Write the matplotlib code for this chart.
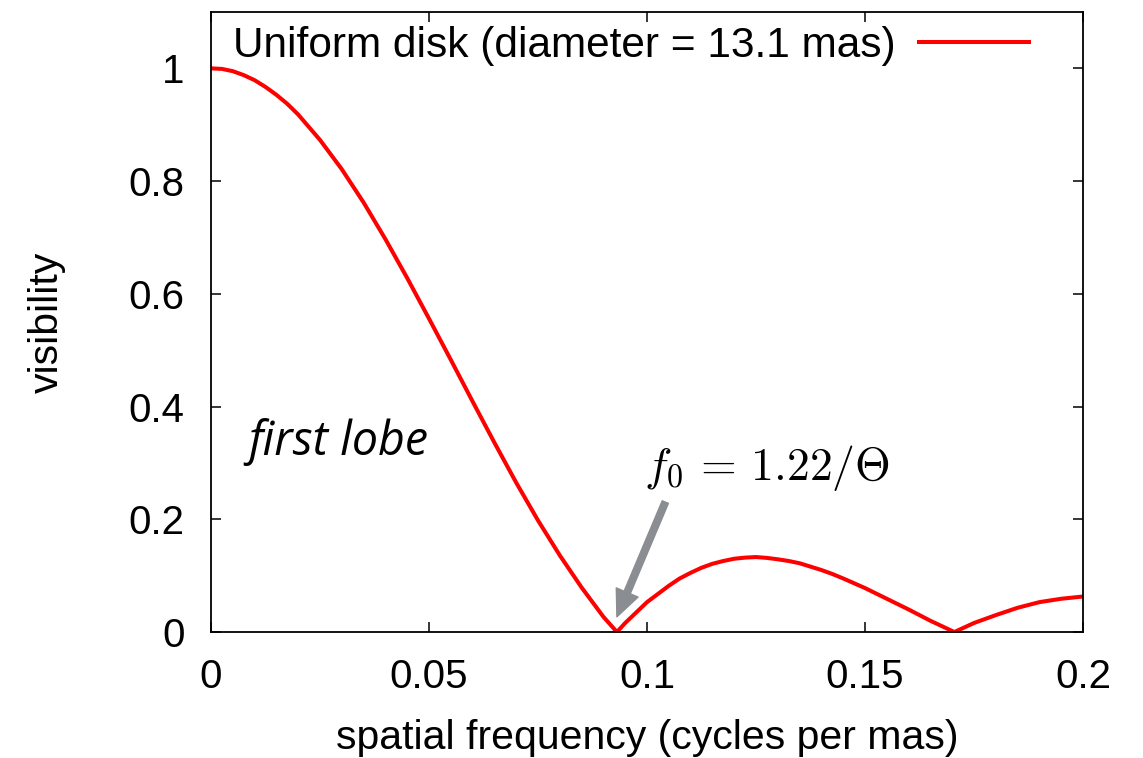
import matplotlib
matplotlib.use("Agg")
import matplotlib.pyplot as plt

plt.rcParams['font.family'] = ['Liberation Sans', 'DejaVu Sans']
plt.rcParams['mathtext.fontset'] = 'cm'

# visibility of a uniform disk
freq = [0, 0.0025, 0.005, 0.0075, 0.01, 0.0125, 0.015, 0.0175, 0.02,
        0.025, 0.03, 0.035, 0.04, 0.045, 0.05, 0.055, 0.06, 0.065, 0.07,
        0.075, 0.08, 0.085, 0.09, 0.0931, 0.095, 0.10, 0.105, 0.1075, 0.11,
        0.1125, 0.115, 0.1175, 0.12, 0.1225, 0.125, 0.1275, 0.13, 0.1325,
        0.135, 0.1375, 0.14, 0.1425, 0.145, 0.15, 0.155, 0.16, 0.165, 0.1705,
        0.175, 0.18, 0.185, 0.19, 0.195, 0.2]
vis = [1.0, 0.999, 0.995, 0.988, 0.979, 0.967, 0.953, 0.937, 0.918,
       0.873, 0.821, 0.762, 0.697, 0.628, 0.556, 0.483, 0.409, 0.336, 0.265,
       0.198, 0.136, 0.079, 0.027, 0.0, 0.016, 0.053, 0.082, 0.095, 0.105,
       0.114, 0.121, 0.126, 0.130, 0.132, 0.133, 0.1315, 0.129, 0.126,
       0.122, 0.116, 0.110, 0.103, 0.095, 0.078, 0.059, 0.040, 0.020, 0.0,
       0.016, 0.030, 0.043, 0.053, 0.059, 0.063]

xticks = [0, 0.05, 0.1, 0.15, 0.2]
xtick_labels = ["0", "0.05", "0.1", "0.15", "0.2"]
yticks = [0, 0.2, 0.4, 0.6, 0.8, 1.0]
ytick_labels = ["0", "0.2", "0.4", "0.6", "0.8", "1"]

f0 = 0.0931

fig = plt.figure(figsize=(11.43, 7.58), dpi=100)
ax = fig.add_axes([0.1846, 0.1662, 0.7629, 0.818])

ax.plot(freq, vis, color="#ff0000", lw=2.9, solid_joinstyle='round',
        label="Uniform disk (diameter = 13.1 mas)")

ax.set_xlim(0, 0.2)
ax.set_ylim(0, 1.1)
ax.set_xticks(xticks)
ax.set_xticklabels(xtick_labels)
ax.set_yticks(yticks)
ax.set_yticklabels(ytick_labels)
ax.tick_params(direction='in', length=7, width=1.1, top=True, right=True,
               labelsize=29)
ax.tick_params(axis='x', pad=19)
ax.tick_params(axis='y', pad=19)
for s in ax.spines.values():
    s.set_linewidth(1.3)

ax.set_xlabel("spatial frequency (cycles per mas)", fontsize=29.5, labelpad=16)
ax.set_ylabel("visibility", fontsize=29.5, labelpad=45)

ax.legend(loc='upper right', frameon=False, fontsize=30.5, markerfirst=False,
          handlelength=2.6, handletextpad=0.55, borderaxespad=0.0,
          bbox_to_anchor=(0.958, 1.005))

ax.text(0.0085, 0.314, "first lobe", family=['Open Sans', 'DejaVu Sans'],
        style='italic', fontsize=33.5, va='baseline', ha='left')

ax.annotate("", xy=(f0, 0.027), xytext=(0.1042, 0.2305),
            arrowprops=dict(facecolor="#8a8d91", edgecolor="#8a8d91",
                            width=4.8, headwidth=17, headlength=19, shrink=0))
ax.text(0.0992, 0.291, r"$f_0\,=\,1.22/\Theta$", fontsize=33,
        va='center', ha='left')

fig.savefig("out.png", dpi=100)
